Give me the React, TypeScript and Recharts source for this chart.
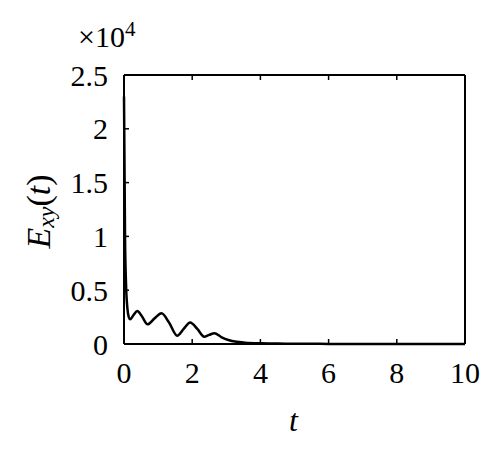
import React from 'react';
import { LineChart, Line, XAxis, YAxis, Label } from 'recharts';

// time t
const tValues = [0, 0.03, 0.06, 0.1, 0.14, 0.18, 0.28, 0.39, 0.52, 0.69, 0.9, 1.1, 1.32, 1.56, 1.75, 1.94, 2.15, 2.35, 2.5, 2.65, 2.85, 3.06, 3.3, 3.55, 4, 4.5, 5, 5.5, 6, 7, 8, 9, 10];
// E_xy(t) in units of 10^4
const eValues = [2.3, 1.0, 0.55, 0.33, 0.25, 0.23, 0.27, 0.307, 0.26, 0.183, 0.24, 0.285, 0.2, 0.077, 0.14, 0.2, 0.14, 0.068, 0.085, 0.1, 0.065, 0.037, 0.02, 0.012, 0.006, 0.004, 0.003, 0.002, 0.001, 0, 0, 0, 0];
const xTicks = [0, 2, 4, 6, 8, 10];
const yTicks = [0, 0.5, 1, 1.5, 2, 2.5];

const data = tValues.map((t, i) => ({ t, e: eValues[i] }));

const FONT = '"Liberation Serif", "DejaVu Serif", serif';
const tickStyle = { fontFamily: FONT, fontSize: 30, fill: '#000' };

const YTitle = (props: any) => {
  const vb = props.viewBox || { x: 0, y: 75, width: 124, height: 269 };
  const cx = vb.x + 38;
  const cy = vb.y + vb.height / 2 + 2;
  return (
    <text
      x={cx}
      y={cy}
      transform={`rotate(-90, ${cx}, ${cy})`}
      textAnchor="middle"
      dominantBaseline="central"
      fontFamily={FONT}
      fontSize={34}
      fill="#000"
    >
      <tspan fontStyle="italic">E</tspan>
      <tspan fontStyle="italic" fontSize={24} dy={8}>xy</tspan>
      <tspan dy={-8}>(</tspan>
      <tspan fontStyle="italic">t</tspan>
      <tspan>)</tspan>
    </text>
  );
};

const Multiplier = (props: any) => {
  const vb = props.viewBox || { x: 0, y: 75 };
  return (
    <text x={vb.x + 78} y={vb.y - 28} fontFamily={FONT} fontSize={30} fill="#000">
      <tspan>×10</tspan>
      <tspan fontSize={21} dy={-11}>4</tspan>
    </text>
  );
};

const XTitle = (props: any) => {
  const vb = props.viewBox || { x: 124, y: 344, width: 341 };
  return (
    <text
      x={vb.x + vb.width / 2 - 1}
      y={vb.y + 87}
      textAnchor="middle"
      fontFamily={FONT}
      fontSize={32}
      fontStyle="italic"
      fill="#000"
    >
      t
    </text>
  );
};

export default function App() {
  return (
    <div style={{ position: 'absolute', left: 0, top: 0, width: 500, height: 461, background: '#fff' }}>
      <LineChart width={500} height={461} data={data} margin={{ top: 74, right: 34, bottom: 0, left: 0 }}>
        <XAxis
          dataKey="t"
          type="number"
          domain={[0, 10]}
          ticks={xTicks}
          height={117}
          axisLine={{ stroke: '#000', strokeWidth: 2 }}
          tickLine={{ stroke: '#000', strokeWidth: 1.5 }}
          tickSize={-5}
          tickMargin={23}
          tick={tickStyle}
          interval={0}
        >
          <Label content={<XTitle />} />
        </XAxis>
        <XAxis
          xAxisId="top"
          orientation="top"
          dataKey="t"
          type="number"
          domain={[0, 10]}
          ticks={xTicks}
          height={1}
          axisLine={{ stroke: '#000', strokeWidth: 2 }}
          tickLine={{ stroke: '#000', strokeWidth: 1.5 }}
          tickSize={-5}
          tickFormatter={() => ''}
          interval={0}
        />
        <YAxis
          type="number"
          domain={[0, 2.5]}
          ticks={yTicks}
          width={124}
          axisLine={{ stroke: '#000', strokeWidth: 2 }}
          tickLine={{ stroke: '#000', strokeWidth: 1.5 }}
          tickSize={-5}
          tickMargin={21}
          tick={tickStyle}
          interval={0}
        >
          <Label content={<YTitle />} />
          <Label content={<Multiplier />} />
        </YAxis>
        <YAxis
          yAxisId="right"
          orientation="right"
          type="number"
          domain={[0, 2.5]}
          ticks={yTicks}
          width={1}
          axisLine={{ stroke: '#000', strokeWidth: 2 }}
          tickLine={{ stroke: '#000', strokeWidth: 1.5 }}
          tickSize={-5}
          tickFormatter={() => ''}
          interval={0}
        />
        <Line
          type="monotone"
          dataKey="e"
          stroke="#000"
          strokeWidth={2.5}
          dot={false}
          isAnimationActive={false}
        />
      </LineChart>
    </div>
  );
}
